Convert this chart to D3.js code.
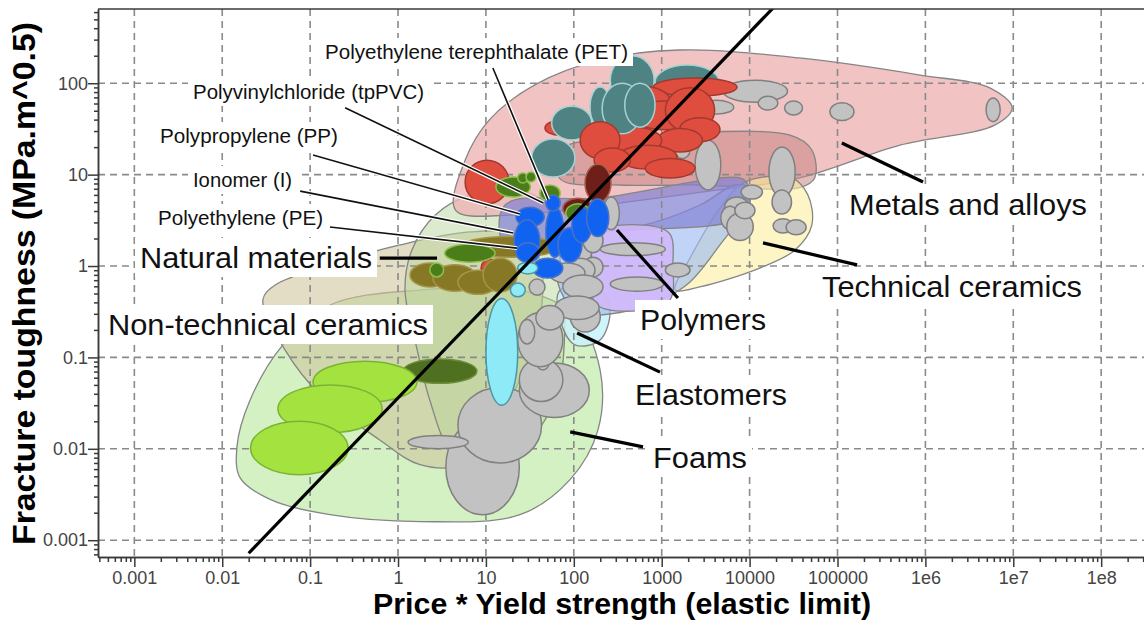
<!DOCTYPE html>
<html><head><meta charset="utf-8">
<script src="https://cdn.jsdelivr.net/npm/d3@7"></script>
<style>
body{margin:0;background:#fff;}
svg{display:block;font-family:"Liberation Sans",Arial,sans-serif;}
</style>
</head><body>
<svg id="chart" width="1144" height="625"></svg>
<script>
// ---------------- DATA ----------------
const xTickValues = [1e-3,1e-2,1e-1,1,10,100,1000,1e4,1e5,1e6,1e7,1e8];
const xTickLabels = ["0.001","0.01","0.1","1","10","100","1000","10000","100000","1e6","1e7","1e8"];
const yTickValues = [1e-3,1e-2,1e-1,1,10,100];
const yTickLabels = ["0.001","0.01","0.1","1","10","100"];

// guide line (index line, slope 1 in log-log)
const guideLine = [[0.02, 0.00072],[30000, 1080]];

// family envelopes: [price*yield, toughness]
const foamsEnvelope = [[0.0147,0.0105],[0.0207,0.034],[0.049,0.137],[0.168,0.374],[1.78,0.546],[24.4,0.546],[103,0.29],[199,0.073],[188,0.016],[90.6,0.0046],[24.4,0.0019],[1.78,0.0016],[0.168,0.0019],[0.035,0.0028],[0.016,0.0048]];
const nonTechCeramicsEnvelope = [[0.029,0.425],[0.040,0.62],[0.168,1.03],[1.05,1.70],[6.6,2.36],[24.4,2.18],[41,1.16],[41,0.257],[24.4,0.057],[11.1,0.016],[5.1,0.0067],[1.78,0.0067],[0.62,0.0125],[0.13,0.039],[0.052,0.12]];
const naturalEnvelope = [[1.2,0.546],[1.44,1.5],[2.64,3.6],[6.6,6.0],[21.4,6.8],[51,4.65],[70,1.16],[79,0.2],[61,0.034],[24.4,0.0097],[8.6,0.0059],[3.9,0.0097],[2.3,0.034],[1.56,0.155]];
const metalsEnvelope = [[4.5,4.1],[5.8,14.4],[11,40],[36,96],[200,180],[1600,231],[37000,189],[870000,123],[5.4e6,89],[9.7e6,54],[6.2e6,35],[514000,21],[37000,9.2],[2700,6.4],[200,4.6],[19,3.6]];
const metalsInnerEnvelope = [[70,18.6],[566,25.8],[28800,27],[51000,18.6],[55000,9.2],[37000,7.2],[2700,7.7],[335,7.7],[70,9]];
const techCeramicsEnvelope = [[1420,0.55],[2100,1.22],[4600,4.3],[8900,8.3],[30000,9.2],[46000,6.0],[51000,2.8],[33000,1.5],[13000,0.95],[2700,0.59]];
const elastomersEnvelope = [[70,0.546],[199,0.546],[258,0.33],[199,0.155],[103,0.137],[70,0.257]];
const compositesEnvelope = [[70,2.36],[566,2.74],[2730,4.65],[6820,7.7],[10100,7.1],[9590,4.65],[4600,1.7],[2100,0.67],[1090,0.447],[335,0.31],[118,0.31],[70,0.546]];
const polymersEnvelope = [[16.5,4.65],[199,5.55],[7780,9.2],[9590,7.7],[8870,3.6],[199,2.36],[16.5,1.7]];
const elastomerSubEnvelope = [[184,2.36],[1180,2.36],[1340,1.03],[1180,0.40],[184,0.374],[161,0.95]];

// material bubbles: [xLow, xHigh, yLow, yHigh]
const limeFoams = [[0.108,1.64,0.032,0.091],[0.043,0.66,0.015,0.05],[0.021,0.27,0.0052,0.020]];
const forestMaterials = [[1.14,7.9,0.052,0.096]];
const greyMaterials = [
 [3.5,24,0.0019,0.021],[4.8,43,0.007,0.047],[1.3,6.3,0.010,0.014],[24,150,0.022,0.087],[24,75,0.033,0.098],
 [38,52,0.073,0.10],[23,75,0.079,0.31],[24,36,0.14,0.26],[91,200,0.19,0.41],
 [86,160,1.0,2.2],[127,215,0.76,1.25],[79,174,0.67,1.22],[52,134,0.65,1.08],[75,215,0.44,0.80],[31,47,0.48,0.72],
 [61,194,0.26,0.47],[37,77,0.20,0.37],[215,330,2.5,5.7],[127,215,1.4,2.6],[200,1100,1.3,1.8],[260,1050,0.53,0.76],
 [5000,27000,62,108],[2700,6600,46,65],[12500,21000,51,72],[25000,40000,45,64],[82000,154000,39,61],[4.9e6,7.1e6,38,69],
 [1400,2100,15,23],[2400,4700,6.8,24],[16600,33000,5.7,20],[18000,30000,3.7,6.8],[8000,14000,5.4,7.7],
 [5200,9800,3.4,5.7],[4700,7600,2.5,4.5],[5500,11000,1.9,3.8],[6800,11500,3.3,5.0],[18500,31000,2.3,3.3],[26000,44000,2.2,3.2],
 [1100,2100,0.76,1.08]
];
const tealBack = [[260,820,58,200],[840,4500,67,158]];
const redMaterials = [
 [800,7200,72,114],[47,103,27,39],[260,1240,46,93],[440,2700,31,64],[174,650,29,54],[1100,4000,29,89],
 [1600,4600,23,42],[900,2900,17.7,32],[245,1000,17,33],[320,1500,11.5,21],[650,2400,9.2,15],
 [5.8,18.3,4.8,14.4],[8.8,14,0.76,1.19]
];
const tealFront = [[153,260,33,91],[210,600,28,100],[380,840,33,100],[56,160,24,56],[33,103,9.4,24.5]];
const redFront = [[118,335,15,38],[170,440,10.7,19.5]];
const maroonMaterials = [[75,165,3.3,5.5],[134,265,5.0,13]];
const oliveMaterials = [[5.1,70,1.25,2.1],[1.37,3.9,0.59,1.08],[2.5,7.9,0.53,1.03],[4.8,13.7,0.49,0.9],[9.3,22.6,0.52,1.22]];
const greenMaterials = [[13,32,5.7,9.4],[23,30,8.1,10.4],[28.6,37,8.3,10.7],[41,70,5.1,7.7],[81,153,3.0,4.8],[3.4,12.7,1.1,1.74],[2.3,3.3,0.76,1.08]];
const blueMaterials = [[22,46,2.7,4.4],[21,41,1.1,3.2],[22,41,1.1,1.8],[48,77,1.25,4.4],[66,124,1.1,2.6],[95,160,1.8,4.4],[140,250,2.1,5.4],[48,70,4.0,6.0],[34,75,0.74,1.22]];
const cyanMaterials = [[10,23,0.030,0.44],[23,39,0.82,1.1],[19,28,0.46,0.65]];

// labels: text, leader line [from, to] in data units
const smallLabels = ["Polyethylene terephthalate (PET)","Polyvinylchloride (tpPVC)","Polypropylene (PP)","Ionomer (I)","Polyethylene (PE)"];
const smallLeaders = [[[12.0,147],[51,5.3]],[[0.25,54],[45,4.9]],[[0.108,16.4],[24.4,3.7]],[[0.077,6.6],[20.3,2.3]],[[0.168,2.67],[22.6,1.57]]];
const familyLabels = ["Natural materials","Non-technical ceramics","Polymers","Elastomers","Foams","Metals and alloys","Technical ceramics"];
const familyLeaders = [[[0.62,1.22],[2.78,1.22]],null,[[310,2.48],[1530,0.447]],[[109,0.185],[957,0.069]],[[91,0.0153],[613,0.0105]],[[112000,22.2],[940000,8.3]],[[14200,1.79],[167000,1.03]]];

// ---------------- LAYOUT ----------------
(function(){
const svg = d3.select("#chart");
const pL=98, pR=1144, pT=9, pB=557;
const x = d3.scaleLog().domain([3.86e-4, 3.07e8]).range([pL, pR]);
const y = d3.scaleLog().domain([6.55e-4, 649]).range([pB, pT]);

svg.append("defs").append("clipPath").attr("id","plotclip")
  .append("rect").attr("x",pL).attr("y",pT).attr("width",pR-pL).attr("height",pB-pT);

const plot = svg.append("g").attr("clip-path","url(#plotclip)");

const env = d3.line().x(d=>x(d[0])).y(d=>y(d[1])).curve(d3.curveCatmullRomClosed.alpha(0.5));
function envelope(pts, fill, op){
  plot.append("path").attr("d", env(pts)).attr("fill", fill).attr("fill-opacity", op)
    .attr("stroke","#858585").attr("stroke-width",1.3);
}
envelope(foamsEnvelope, "#d4f1c3", 1);
envelope(nonTechCeramicsEnvelope, "#cfc69c", 0.6);
envelope(naturalEnvelope, "#b9d59c", 0.5);
envelope(metalsEnvelope, "#eeb4b4", 0.8);
envelope(metalsInnerEnvelope, "#c88585", 0.55);
envelope(techCeramicsEnvelope, "#fcee9e", 0.6);
envelope(elastomersEnvelope, "#c8f2fb", 0.85);
envelope(compositesEnvelope, "#9fbcf3", 0.65);
envelope(polymersEnvelope, "#8482d2", 0.72);
envelope(elastomerSubEnvelope, "#d0b8f8", 0.9);

// grid
const grid = plot.append("g").attr("stroke","#8a8a8a").attr("stroke-width",1.6).attr("stroke-dasharray","7,5").attr("fill","none");
xTickValues.forEach(v=>grid.append("line").attr("x1",x(v)).attr("x2",x(v)).attr("y1",pT).attr("y2",pB));
yTickValues.forEach(v=>grid.append("line").attr("y1",y(v)).attr("y2",y(v)).attr("x1",pL).attr("x2",pR));

function bubbles(list, fill, stroke){
  plot.append("g").selectAll("ellipse").data(list).enter().append("ellipse")
    .attr("cx", d => (x(d[0])+x(d[1]))/2)
    .attr("cy", d => (y(d[2])+y(d[3]))/2)
    .attr("rx", d => Math.abs(x(d[1])-x(d[0]))/2)
    .attr("ry", d => Math.abs(y(d[2])-y(d[3]))/2)
    .attr("fill", fill).attr("stroke", stroke).attr("stroke-width",1.5);
}
bubbles(forestMaterials, "#4e7020", "#6d8f38");
bubbles(limeFoams, "#a4e23f", "#7ab334");
bubbles(greyMaterials, "#c2c2c2", "#808080");
bubbles(tealBack, "#4f8383", "#a5d2d2");
bubbles(redMaterials, "#df4d3f", "#a3392e");
bubbles(tealFront, "#4f8383", "#a5d2d2");
bubbles(redFront, "#df4d3f", "#a3392e");
bubbles(maroonMaterials, "#6e1f1a", "#a8604e");
bubbles(oliveMaterials, "#877826", "#a69448");
bubbles(greenMaterials, "#4c7d1b", "#8cc04a");
bubbles(blueMaterials, "#0f63f0", "#4a72c4");
bubbles(cyanMaterials, "#8eeaf6", "#4b96a6");

// guide line
plot.append("line").attr("x1",x(guideLine[0][0])).attr("y1",y(guideLine[0][1]))
  .attr("x2",x(guideLine[1][0])).attr("y2",y(guideLine[1][1]))
  .attr("stroke","#000").attr("stroke-width",3.2);

// axes
function minorVals(domain){
  const out=[];
  for(let e=-5;e<=9;e++) for(let k=2;k<=9;k++){const v=k*Math.pow(10,e); if(v>=domain[0]&&v<=domain[1]) out.push(v);}
  return out;
}
const axColor="#3a3a3a";
const gx = svg.append("g").attr("transform",`translate(0,${pB})`);
gx.call(d3.axisBottom(x).tickValues(minorVals(x.domain())).tickSize(5).tickSizeOuter(0).tickFormat(""));
gx.append("g").call(d3.axisBottom(x).tickValues(xTickValues).tickSize(10).tickSizeOuter(0).tickFormat((d,i)=>xTickLabels[i]));
gx.selectAll("path,line").attr("stroke",axColor).attr("stroke-width",1.5);
gx.selectAll("text").attr("fill","#444").attr("font-size",18).attr("font-family","Liberation Sans, Arial, sans-serif").attr("y",14);

const gy = svg.append("g").attr("transform",`translate(${pL},0)`);
gy.call(d3.axisLeft(y).tickValues(minorVals(y.domain())).tickSize(4).tickSizeOuter(0).tickFormat(""));
gy.append("g").call(d3.axisLeft(y).tickValues(yTickValues).tickSize(10).tickSizeOuter(0).tickFormat((d,i)=>yTickLabels[i]));
gy.selectAll("path,line").attr("stroke",axColor).attr("stroke-width",1.5);
gy.selectAll("text").attr("fill","#444").attr("font-size",18).attr("font-family","Liberation Sans, Arial, sans-serif").attr("x",-10);

svg.append("line").attr("x1",pL).attr("x2",pR).attr("y1",pT).attr("y2",pT).attr("stroke",axColor).attr("stroke-width",1.5);

// axis titles
svg.append("text").text("Price * Yield strength (elastic limit)")
  .attr("x",373).attr("y",614).attr("font-size",30).attr("font-weight","bold")
  .attr("textLength",498).attr("lengthAdjust","spacingAndGlyphs");
svg.append("text").text("Fracture toughness (MPa.m^0.5)")
  .attr("transform","translate(35,545) rotate(-90)").attr("font-size",32).attr("font-weight","bold")
  .attr("textLength",523).attr("lengthAdjust","spacingAndGlyphs");

// leaders
const ann = svg.append("g");
smallLeaders.forEach(l=>{
  ann.append("line").attr("x1",x(l[0][0])).attr("y1",y(l[0][1])).attr("x2",x(l[1][0])).attr("y2",y(l[1][1]))
    .attr("stroke","#fff").attr("stroke-width",4);
  ann.append("line").attr("x1",x(l[0][0])).attr("y1",y(l[0][1])).attr("x2",x(l[1][0])).attr("y2",y(l[1][1]))
    .attr("stroke","#111").attr("stroke-width",1.6);
});
familyLeaders.forEach(l=>{ if(!l) return;
  ann.append("line").attr("x1",x(l[0][0])).attr("y1",y(l[0][1])).attr("x2",x(l[1][0])).attr("y2",y(l[1][1]))
    .attr("stroke","#000").attr("stroke-width",3.2);
});

// labels with white boxes
const smallPos = [[325,59,303],[193,99,231],[160,143,178],[193,187,99],[158,225,165]];
const famPos = [[140,268,232],[108,335,320],[640,330,126],[635,405,152],[653,468,94],[849,215,238],[822,297,260]];
function boxedLabel(txt,p,size){
  const g = svg.append("g");
  const t = g.append("text").text(txt).attr("x",p[0]).attr("y",p[1]).attr("font-size",size).attr("fill","#111")
    .attr("textLength",p[2]).attr("lengthAdjust","spacingAndGlyphs");
  const b = t.node().getBBox();
  g.insert("rect","text").attr("x",b.x-5).attr("y",b.y-3).attr("width",b.width+10).attr("height",b.height+6).attr("fill","#fff");
}
smallLabels.forEach((t,i)=>boxedLabel(t,smallPos[i],20));
familyLabels.forEach((t,i)=>boxedLabel(t,famPos[i],30));
})();
</script>
</body></html>
